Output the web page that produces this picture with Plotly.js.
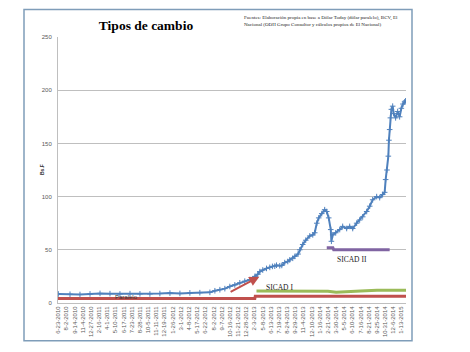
<!DOCTYPE html>
<html>
<head>
<meta charset="utf-8">
<script src="https://cdn.plot.ly/plotly-3.0.1.min.js"></script>
<style>
html,body{margin:0;padding:0;background:#fff;}
#chart{width:470px;height:352px;}
</style>
</head>
<body>
<div id="chart"></div>
<script>
// Category tick labels (dates), one every N observations
const tickLabels = ["6-23-2010","8-2-2010","9-14-2010","11-4-2010","12-27-2010","2-16-2011","4-1-2011","5-10-2011","6-17-2011","7-23-2011","8-28-2011","10-5-2011","11-11-2011","12-19-2011","1-26-2012","3-1-2012","4-8-2012","5-17-2012","6-22-2012","8-2-2012","9-7-2012","10-16-2012","11-21-2012","12-28-2012","2-3-2013","5-8-2013","6-13-2013","7-19-2013","8-24-2013","9-29-2013","11-4-2013","12-10-2013","1-16-2014","2-21-2014","3-30-2014","5-5-2014","6-10-2014","7-16-2014","8-21-2014","9-25-2014","10-31-2014","12-6-2014","1-13-2015"];

// Paralelo (Dólar Today) – position in tick-label units, value in Bs.F
const paraleloPos = [0,1.43,2.65,3.88,5.10,6.32,7.54,8.77,9.99,11.21,12.43,13.66,14.88,16.10,17.32,18.55,19.16,19.77,20.38,20.99,21.60,22.21,22.82,23.44,24.05,24.41,24.66,25.02,25.48,25.88,26.2,26.49,26.7,27.10,27.35,27.71,28.08,28.32,28.69,28.94,29.34,29.55,29.91,30.28,30.77,31.14,31.38,31.63,31.87,32.24,32.60,32.85,33.09,33.34,33.42,33.58,33.95,34.44,34.80,35.29,35.66,36.03,36.51,36.88,37.25,37.74,38.11,38.47,38.96,39.33,39.69,39.94,40.06,40.22,40.39,40.46,40.55,40.64,40.76,40.92,41.04,41.28,41.53,41.77,41.98,42.18,42.38,42.50];
const paraleloVal = [8.5,8.2,8.0,8.5,9.0,8.8,8.5,8.8,8.6,8.5,8.9,9.3,9.0,9.5,9.7,10.0,11.5,12.5,13.5,15.5,17,19,20.5,22,25,27,29.5,31,32.5,33.5,34.4,34.6,35.5,35,35.3,38,39,40.5,42,43.8,46,50,55,59,63,64,66,75,80,84,87.7,86,80,69,58,64,66,69,72,70,72,70,75,78,81,86,91,97,100,99,102,104,116,125,138,153,163,174,182,185,178,174,180,175,183,187,189,190];

// Oficial (CADIVI)
const oficialPos = [-0.05,24.05,24.1,42.55];
const oficialVal = [4.3,4.3,6.3,6.3];

// SICAD I
const sicad1Pos = [24.25,27,30,33,34,35,37,39,42.55];
const sicad1Val = [11.3,11.3,11.5,11.0,10.0,10.2,11.2,12.0,12.0];

// SICAD II
const sicad2Pos = [32.85,33.6,33.7,40.55];
const sicad2Val = [52,52,50,50];

const tickPos = tickLabels.map((_, i) => i);

const traces = [
  {x: oficialPos, y: oficialVal, type:'scatter', mode:'lines', line:{color:'#c0504d', width:3}, hoverinfo:'skip'},
  {x: sicad1Pos, y: sicad1Val, type:'scatter', mode:'lines', line:{color:'#9bbb59', width:3}, hoverinfo:'skip'},
  {x: sicad2Pos, y: sicad2Val, type:'scatter', mode:'lines', line:{color:'#8064a2', width:3}, hoverinfo:'skip'},
  {x: paraleloPos, y: paraleloVal, type:'scatter', mode:'lines+markers', line:{color:'#4f81bd', width:2},
   marker:{symbol:'cross-thin-open', size:4, color:'#4f81bd', line:{color:'#4f81bd', width:1}}, hoverinfo:'skip'}
];

const F = 'Liberation Sans, Arial, sans-serif';
const S = 'Liberation Serif, Times New Roman, serif';

const layout = {
  width:470, height:352,
  margin:{l:58, r:64, t:37, b:49},
  paper_bgcolor:'#ffffff', plot_bgcolor:'#ffffff',
  showlegend:false,
  title:{text:'<b>Tipos de cambio</b>', x:146/470, xanchor:'center', y:1-25.5/352, yanchor:'middle',
         font:{family:S, size:13.5, color:'#000'}},
  xaxis:{range:[-0.04,42.55], tickmode:'array', tickvals:tickPos, ticktext:tickLabels, tickangle:-90,
         tickfont:{family:F, size:6, color:'#595959'}, showgrid:false, zeroline:false,
         showline:true, linecolor:'#bfbfbf', linewidth:1, ticks:'', fixedrange:true},
  yaxis:{range:[0,250], tickvals:[0,50,100,150,200,250], tickfont:{family:F, size:6, color:'#595959'},
         showgrid:true, gridcolor:'#bfbfbf', gridwidth:1, zeroline:false, showline:true, linecolor:'#bfbfbf',
         linewidth:1, ticks:'', ticklabelstandoff:4, fixedrange:true},
  shapes:[
    {type:'rect', xref:'paper', yref:'paper', x0:(24-58)/348, x1:(412-58)/348, y0:(303.3-341)/265.8, y1:(303.3-10)/265.8,
     line:{color:'#7f9db9', width:1.5}, fillcolor:'rgba(0,0,0,0)', layer:'below'}
  ],
  annotations:[
    {xref:'paper', yref:'paper', x:(242-58)/348, y:(303.3-21.5)/265.8, xanchor:'left', yanchor:'middle', align:'left',
     showarrow:false, text:'Fuentes: Elaboración propia en base a Dólar Today (dólar paralelo), BCV, El<br>Nacional (ODH Grupo Consultor y cálculos propios de El Nacional)',
     font:{family:S, size:5, color:'#222'}},
    {xref:'paper', yref:'paper', x:(37-58)/348, y:0.5, textangle:-90, showarrow:false, text:'<b>Bs.F</b>',
     font:{family:F, size:5, color:'#333'}},
    {xref:'x', yref:'y', x:24.6, y:24.7, ax:20.9, ay:9.7, axref:'x', ayref:'y', showarrow:true, arrowhead:2,
     arrowsize:1, arrowwidth:2, arrowcolor:'#c0504d', text:''},
    {xref:'x', yref:'y', x:8.3, y:5.8, showarrow:false, text:'Paralelo', font:{family:F, size:6, color:'#333'}},
    {xref:'x', yref:'y', x:10.6, y:-3.5, showarrow:false, text:'Bs.F 4,30', font:{family:F, size:4, color:'#333'}},
    {xref:'x', yref:'y', x:36.6, y:-4.5, showarrow:false, text:'Bs.F 6,30', font:{family:F, size:4, color:'#333'}},
    {xref:'x', yref:'y', x:27.1, y:14.4, showarrow:false, text:'SICAD I', font:{family:S, size:7.5, color:'#222'}},
    {xref:'x', yref:'y', x:35.9, y:40.7, showarrow:false, text:'SICAD II', font:{family:S, size:7.5, color:'#222'}}
  ]
};

Plotly.newPlot('chart', traces, layout, {staticPlot:true, displayModeBar:false});
</script>
</body>
</html>
